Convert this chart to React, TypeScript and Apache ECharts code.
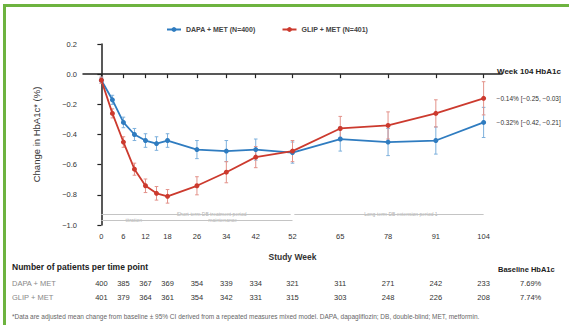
import React, { useEffect, useRef } from "react";
import * as echarts from "echarts";

const FONT = "'Liberation Sans', Arial, Helvetica, sans-serif";

const weeks = [0, 3, 6, 9, 12, 15, 18, 26, 34, 42, 52, 65, 78, 91, 104];
const dapaMean = [-0.04, -0.17, -0.32, -0.4, -0.44, -0.46, -0.44, -0.5, -0.51, -0.5, -0.52, -0.43, -0.45, -0.44, -0.32];
const dapaCI = [0.02, 0.03, 0.035, 0.04, 0.045, 0.045, 0.045, 0.06, 0.07, 0.07, 0.07, 0.08, 0.09, 0.09, 0.1];
const glipMean = [-0.04, -0.26, -0.45, -0.63, -0.74, -0.79, -0.81, -0.74, -0.65, -0.55, -0.51, -0.36, -0.34, -0.26, -0.16];
const glipCI = [0.02, 0.03, 0.035, 0.04, 0.045, 0.045, 0.045, 0.06, 0.07, 0.07, 0.07, 0.08, 0.09, 0.09, 0.11];

const xTicks = [0, 6, 12, 18, 26, 34, 42, 52, 65, 78, 91, 104];
const dapaN = [400, 385, 367, 369, 354, 339, 334, 321, 311, 271, 242, 233];
const glipN = [401, 379, 364, 361, 354, 342, 331, 315, 303, 248, 226, 208];

const dapaName = "DAPA + MET (N=400)";
const glipName = "GLIP + MET (N=401)";
const dapaEnd = "\u22120.32% [\u22120.42, \u22120.21]";
const glipEnd = "\u22120.14% [\u22120.25, \u22120.03]";
const baselineDapa = "7.69%";
const baselineGlip = "7.74%";

const periodLabels = ["Short-term DB treatment period", "Long-term DB extension period 1", "titration", "maintenance"];
const periodWeeks = [30, 81.5, 8.8, 33];
const periodRows = [-0.93, -0.93, -0.97, -0.97];
const periodSpans = [
  [0, 51.5, -0.93],
  [52.5, 104, -0.93],
  [0, 52, -0.97],
];

const BLUE = "#2f7cc0";
const RED = "#cc3a2e";
const BLUE_L = "#7db0dc";
const RED_L = "#e3928a";

function errorBars(mean: number[], ci: number[]) {
  return weeks.map((w, i) => [w, mean[i] - ci[i], mean[i] + ci[i]]);
}

function makeRender(color: string) {
  return (params: any, api: any) => {
    const x = api.value(0);
    const p1 = api.coord([x, api.value(1)]);
    const p2 = api.coord([x, api.value(2)]);
    const w = 1.8;
    const style = { stroke: color, lineWidth: 1 };
    return {
      type: "group",
      children: [
        { type: "line", shape: { x1: p1[0], y1: p1[1], x2: p2[0], y2: p2[1] }, style },
        { type: "line", shape: { x1: p1[0] - w, y1: p1[1], x2: p1[0] + w, y2: p1[1] }, style },
        { type: "line", shape: { x1: p2[0] - w, y1: p2[1], x2: p2[0] + w, y2: p2[1] }, style },
      ],
    };
  };
}

const fmtY = (v: number) => (Math.abs(v) < 1e-9 ? "0.0" : v.toFixed(1).replace("-", "\u2212"));

export default function App() {
  const ref = useRef<HTMLDivElement>(null);
  useEffect(() => {
    if (!ref.current) return;
    const chart = echarts.init(ref.current, null, { renderer: "svg" });
    const option: any = {
      animation: false,
      textStyle: { fontFamily: FONT },
      legend: {
        data: [dapaName, glipName],
        left: 161,
        top: 21,
        itemGap: 26,
        itemWidth: 14,
        itemHeight: 6,
        textStyle: { fontSize: 7, fontWeight: "bold", color: "#444", fontFamily: FONT },
      },
      grid: { left: 83, right: 67, top: 44, bottom: 100 },
      xAxis: [
        {
          type: "value",
          min: -5,
          max: 109,
          name: "Study Week",
          nameLocation: "middle",
          nameGap: 27,
          nameTextStyle: { fontSize: 8.5, fontWeight: "bold", color: "#333" },
          axisLine: { lineStyle: { color: "#222", width: 1.5 } },
          axisTick: { customValues: xTicks, length: 4, lineStyle: { color: "#222", width: 1.2 } },
          axisLabel: { customValues: xTicks, fontSize: 7.5, color: "#333", margin: 7 },
          splitLine: { show: false },
        },
        {
          type: "value",
          min: -5,
          max: 109,
          position: "bottom",
          offset: 46,
          axisLine: { show: false },
          axisTick: { show: false },
          axisLabel: {
            customValues: xTicks,
            formatter: (v: number) => String(dapaN[xTicks.indexOf(v)]),
            fontSize: 7.5,
            color: "#333",
          },
          splitLine: { show: false },
        },
        {
          type: "value",
          min: -5,
          max: 109,
          position: "bottom",
          offset: 60,
          axisLine: { show: false },
          axisTick: { show: false },
          axisLabel: {
            customValues: xTicks,
            formatter: (v: number) => String(glipN[xTicks.indexOf(v)]),
            fontSize: 7.5,
            color: "#333",
          },
          splitLine: { show: false },
        },
      ],
      yAxis: {
        type: "value",
        min: -1,
        max: 0.2,
        interval: 0.2,
        name: "Change in HbA1c* (%)",
        nameLocation: "middle",
        nameGap: 42,
        nameTextStyle: { fontSize: 9.5, color: "#333" },
        axisLine: { show: true, lineStyle: { color: "#222", width: 1.5 } },
        axisTick: { show: true, length: 4, lineStyle: { color: "#222", width: 1.2 } },
        axisLabel: { fontSize: 7.5, color: "#333", margin: 6, formatter: fmtY },
        splitLine: { show: false },
      },
      series: [
        {
          type: "custom",
          name: "dapaCI",
          renderItem: makeRender(BLUE_L),
          data: errorBars(dapaMean, dapaCI),
          encode: { x: 0, y: [1, 2] },
          z: 1,
          silent: true,
        },
        {
          type: "custom",
          name: "glipCI",
          renderItem: makeRender(RED_L),
          data: errorBars(glipMean, glipCI),
          encode: { x: 0, y: [1, 2] },
          z: 1,
          silent: true,
        },
        {
          type: "line",
          name: dapaName,
          data: weeks.map((w, i) => [w, dapaMean[i]]),
          symbol: "circle",
          symbolSize: 5,
          showSymbol: true,
          lineStyle: { color: BLUE, width: 1.8 },
          itemStyle: { color: BLUE },
          z: 3,
          endLabel: { show: true, formatter: dapaEnd, distance: 13, fontSize: 6.5, color: "#333" },
        },
        {
          type: "line",
          name: glipName,
          data: weeks.map((w, i) => [w, glipMean[i]]),
          symbol: "circle",
          symbolSize: 5,
          showSymbol: true,
          lineStyle: { color: RED, width: 1.8 },
          itemStyle: { color: RED },
          z: 4,
          endLabel: { show: true, formatter: glipEnd, distance: 13, fontSize: 6.5, color: "#333" },
        },
        {
          type: "scatter",
          name: "periods",
          data: periodLabels.map((t, i) => [periodWeeks[i], periodRows[i], t]),
          symbolSize: 0,
          silent: true,
          z: 2,
          label: {
            show: true,
            position: "inside",
            formatter: (p: any) => p.data[2],
            fontSize: 5,
            color: "#9a9a9a",
            backgroundColor: "#fff",
            padding: [0, 2],
          },
          markLine: {
            silent: true,
            symbol: ["none", "none"],
            lineStyle: { color: "#c4c4c4", width: 1, type: "solid" },
            label: { show: false },
            data: periodSpans.map((s) => [{ coord: [s[0], s[2]] }, { coord: [s[1], s[2]] }]),
          },
        },
      ],
      graphic: [
        { type: "rect", shape: { x: 3, y: 4, width: 566, height: 3 }, style: { fill: "#6db33f" } },
        { type: "rect", shape: { x: 3, y: 4, width: 3, height: 321 }, style: { fill: "#6db33f" } },
        {
          type: "text",
          left: 497,
          top: 67,
          style: { text: "Week 104 HbA1c", fontSize: 8, fontWeight: "bold", fill: "#222", fontFamily: FONT },
        },
        {
          type: "text",
          left: 12,
          top: 262,
          style: { text: "Number of patients per time point", fontSize: 8.5, fontWeight: "bold", fill: "#222", fontFamily: FONT },
        },
        {
          type: "text",
          left: 498,
          top: 265,
          style: { text: "Baseline HbA1c", fontSize: 7.5, fontWeight: "bold", fill: "#222", fontFamily: FONT },
        },
        {
          type: "text",
          left: 12,
          top: 279,
          style: { text: "DAPA + MET", fontSize: 7.5, fill: "#888", fontFamily: FONT },
        },
        {
          type: "text",
          left: 12,
          top: 293,
          style: { text: "GLIP + MET", fontSize: 7.5, fill: "#888", fontFamily: FONT },
        },
        {
          type: "text",
          left: 520,
          top: 279,
          style: { text: baselineDapa, fontSize: 7.5, fill: "#333", fontFamily: FONT },
        },
        {
          type: "text",
          left: 520,
          top: 293,
          style: { text: baselineGlip, fontSize: 7.5, fill: "#333", fontFamily: FONT },
        },
        {
          type: "text",
          left: 12,
          top: 313,
          style: {
            text:
              "*Data are adjusted mean change from baseline \u00b1 95% CI derived from a repeated measures mixed model. DAPA, dapagliflozin; DB, double-blind; MET, metformin.",
            fontSize: 6.5,
            fill: "#666",
            fontFamily: FONT,
          },
        },
      ],
    };
    chart.setOption(option);
    return () => chart.dispose();
  }, []);
  return (
    <div
      ref={ref}
      style={{ position: "fixed", left: 0, top: 0, width: 569, height: 325, background: "#fff" }}
    />
  );
}
